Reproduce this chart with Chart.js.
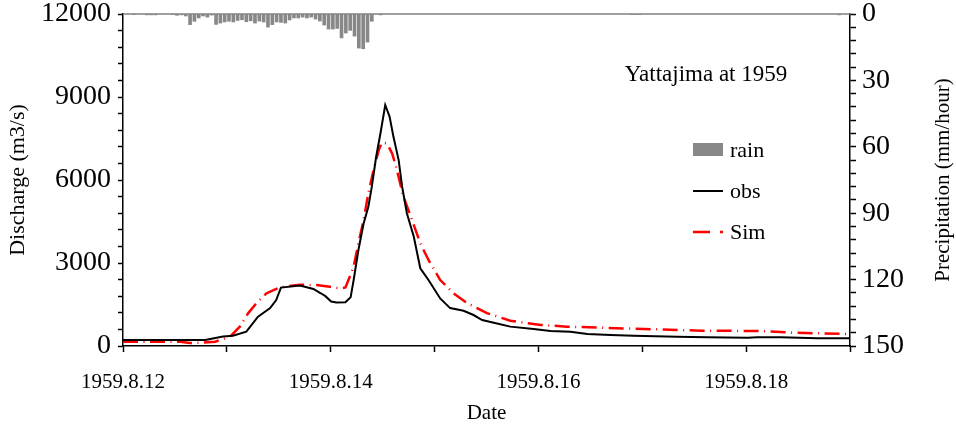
<!DOCTYPE html>
<html>
<head>
<meta charset="utf-8">
<title>Yattajima at 1959</title>
<script src="https://cdn.jsdelivr.net/npm/chart.js@4.4.1/dist/chart.umd.min.js"></script>
<style>
  html, body { margin: 0; padding: 0; background: #fff; }
  #chart { display: block; }
</style>
</head>
<body>
<canvas id="chart" width="956" height="428"></canvas>
<script>
// time is in hours from 1959.8.12 00:00

// hourly rainfall (mm/hour), bar drawn in the middle of its hour
var rainHours = [2, 5, 6, 7, 11, 12, 13, 14,
    15, 16, 17, 18, 19, 20, 21, 22, 23, 24, 25, 26, 27, 28, 29, 30, 31, 32, 33, 34, 35, 36,
    37, 38, 39, 40, 41, 42, 43, 44, 45, 46, 47, 48, 49, 50, 51, 52, 53, 54, 55, 56, 57,
    59, 117, 118, 119, 165];
var rainValues = [0.15, 0.4, 0.4, 0.4, 0.3, 0.6, 0.4, 0.9,
    4.8, 3.3, 1.8, 0.9, 1.4, 0.5, 4.7, 4.1, 3.6, 3.3, 3.6, 2.9, 2.6, 3.5, 3.1, 4.1, 3.2, 3.6, 5.9, 4.8, 3.6, 3.8,
    4.1, 2.7, 1.8, 1.8, 1.4, 1.8, 1.4, 2.3, 3.2, 5.0, 6.8, 6.8, 6.5, 10.8, 8.6, 7.4, 10.0, 15.4, 15.7, 12.7, 3.3,
    0.4, 0.2, 0.3, 0.2, 0.4];

// observed discharge (m3/s)
var obsHours = [0, 19, 23.1, 25.4, 28.5, 31.2, 34, 35.4, 36.5, 40.9, 44, 45.6, 46.7, 48.1, 49.3, 51.4, 52.6,
    53.3, 54.4, 55.6, 56.7, 57.5, 58.5, 59.5, 60.6, 61.6, 62.5, 63.7, 64.5, 65.6, 67.2, 68.7, 70.6,
    73.3, 75.6, 78.7, 81, 83, 85.7, 89.5, 94.9, 98.8, 103.4, 107.3, 112.7, 118, 128.1, 135, 144.3,
    146.6, 152, 160.5, 168];
var obsValues = [220, 220, 340, 370, 520, 1060, 1370, 1660, 2110, 2190, 2060, 1915, 1810, 1610, 1570, 1580, 1760,
    2385, 3470, 4430, 5030, 5760, 6840, 7690, 8710, 8290, 7560, 6720, 5760, 4800, 3950, 2810, 2385,
    1720, 1370, 1275, 1120, 940, 840, 700, 615, 540, 515, 435, 400, 370, 335, 315, 300,
    320, 315, 280, 280];

// simulated discharge (m3/s)
var simHours = [0, 13.2, 15.5, 17.8, 21.3, 24.7, 27, 28.9, 30.8, 33.1, 36.2, 40.9, 44.7, 47.8, 50.2, 51.4,
    52.1, 53.3, 54.4, 55.6, 56.7, 57.9, 59.1, 59.8, 61, 62.2, 63.3, 64.8, 66.8, 68.7, 70.6, 73.3,
    76.4, 79.5, 84.1, 89.5, 96.5, 102.6, 110.3, 120.4, 133.5, 147.3, 155, 166.6, 168];
var simValues = [155, 155, 110, 120, 155, 335, 700, 1180, 1540, 1900, 2120, 2215, 2205, 2140, 2085, 2115,
    2385, 2865, 3710, 4550, 5520, 6360, 7080, 7350, 7325, 6960, 6360, 5400, 4550, 3710, 3110, 2385,
    1905, 1555, 1190, 915, 760, 700, 660, 615, 555, 540, 480, 435, 430];

var dateTickHours = [0, 48, 96, 144];
var dateTickLabels = ['1959.8.12', '1959.8.14', '1959.8.16', '1959.8.18'];

var serif = '"Liberation Serif", "Times New Roman", serif';

function toPoints(xs, ys, shift) {
    var pts = [];
    for (var i = 0; i < xs.length; i++) {
        pts.push({ x: xs[i] + shift, y: ys[i] });
    }
    return pts;
}

// keep the plot box fixed no matter how far the tick labels hang over
function fixVertical(width) {
    return function (s) {
        s.width = width;
        s.paddingTop = 14;
        s.paddingBottom = 0;
    };
}

// gray line along the top, title, legend and right axis title
var decorPlugin = {
    id: 'decor',
    afterDraw: function (chart) {
        var ctx = chart.ctx;
        var area = chart.chartArea;
        var sets = chart.data.datasets;
        ctx.save();

        ctx.strokeStyle = '#808080';
        ctx.lineWidth = 1.5;
        ctx.beginPath();
        ctx.moveTo(area.left, area.top);
        ctx.lineTo(area.right, area.top);
        ctx.stroke();

        ctx.fillStyle = '#000';
        ctx.font = '23px ' + serif;
        ctx.textAlign = 'center';
        ctx.textBaseline = 'middle';
        ctx.fillText('Yattajima at 1959', area.right - 144, area.top + 61);

        var lx = area.right - 157;
        var rows = [area.top + 136, area.top + 177, area.top + 218];

        ctx.fillStyle = sets[0].backgroundColor;
        ctx.fillRect(lx, rows[0] - 7, 30, 13);

        ctx.strokeStyle = sets[1].borderColor;
        ctx.lineWidth = sets[1].borderWidth;
        ctx.beginPath();
        ctx.moveTo(lx, rows[1]);
        ctx.lineTo(lx + 30, rows[1]);
        ctx.stroke();

        ctx.strokeStyle = sets[2].borderColor;
        ctx.lineWidth = sets[2].borderWidth;
        ctx.setLineDash([17, 10, 3, 10]);
        ctx.beginPath();
        ctx.moveTo(lx, rows[2]);
        ctx.lineTo(lx + 30, rows[2]);
        ctx.stroke();
        ctx.setLineDash([]);

        ctx.fillStyle = '#000';
        ctx.font = '22px ' + serif;
        ctx.textAlign = 'left';
        for (var i = 0; i < 3; i++) {
            ctx.fillText(sets[i].label, lx + 37, rows[i] + 1);
        }

        ctx.font = '21px ' + serif;
        ctx.translate(chart.width - 13, (area.top + area.bottom) / 2);
        ctx.rotate(-Math.PI / 2);
        ctx.textAlign = 'center';
        ctx.fillText('Precipitation (mm/hour)', 0, 0);
        ctx.restore();
    }
};

var axisColor = '#000';

var chart = new Chart(document.getElementById('chart'), {
    type: 'line',
    data: {
        datasets: [{
            type: 'bar',
            label: 'rain',
            data: toPoints(rainHours, rainValues, 0.5),
            xAxisID: 'x',
            yAxisID: 'y2',
            backgroundColor: '#888888',
            borderWidth: 0,
            barThickness: 3
        }, {
            label: 'obs',
            data: toPoints(obsHours, obsValues, 0),
            yAxisID: 'y',
            borderColor: '#000',
            borderWidth: 2,
            pointRadius: 0,
            tension: 0,
            fill: false
        }, {
            label: 'Sim',
            data: toPoints(simHours, simValues, 0),
            yAxisID: 'y',
            borderColor: '#ff0000',
            borderWidth: 2.5,
            borderDash: [15, 5.5, 1, 5.5],
            pointRadius: 0,
            tension: 0,
            fill: false
        }]
    },
    options: {
        responsive: false,
        animation: false,
        devicePixelRatio: 1,
        layout: { padding: { top: 14, left: 0, right: 0, bottom: 0 } },
        plugins: { legend: { display: false }, tooltip: { enabled: false } },
        scales: {
            x: {
                type: 'linear',
                min: 0,
                max: 168,
                offset: false,
                afterFit: function (s) { s.height = 82; },
                border: { color: axisColor, width: 1.5 },
                grid: { drawOnChartArea: false, offset: false, tickLength: 6, tickWidth: 1.5, tickColor: axisColor },
                ticks: {
                    stepSize: 24,
                    autoSkip: false,
                    maxRotation: 0,
                    padding: 18,
                    color: '#000',
                    font: { family: serif, size: 21 },
                    callback: function (v) {
                        var i = dateTickHours.indexOf(v);
                        return i >= 0 ? dateTickLabels[i] : '';
                    }
                },
                title: {
                    display: true,
                    text: 'Date',
                    color: '#000',
                    font: { family: serif, size: 21 },
                    padding: { top: 0, bottom: 2 }
                }
            },
            y: {
                position: 'left',
                min: 0,
                max: 12000,
                afterFit: fixVertical(123),
                border: { color: axisColor, width: 1.5 },
                grid: { drawOnChartArea: false, tickLength: 5, tickWidth: 1.5, tickColor: axisColor },
                ticks: {
                    stepSize: 600,
                    autoSkip: false,
                    padding: 7,
                    color: '#000',
                    font: { family: serif, size: 28 },
                    callback: function (v) { return v % 3000 === 0 ? v : ''; }
                },
                title: {
                    display: true,
                    text: 'Discharge (m3/s)',
                    color: '#000',
                    font: { family: serif, size: 22 },
                    padding: { top: 5, bottom: 0 }
                }
            },
            y2: {
                position: 'right',
                min: 0,
                max: 150,
                reverse: true,
                afterFit: fixVertical(106),
                border: { color: axisColor, width: 1.5 },
                grid: { drawOnChartArea: false, tickLength: 6, tickWidth: 1.5, tickColor: axisColor },
                ticks: {
                    stepSize: 6,
                    autoSkip: false,
                    padding: 6,
                    color: '#000',
                    font: { family: serif, size: 28 },
                    callback: function (v) { return v % 30 === 0 ? v : ''; }
                }
            }
        }
    },
    plugins: [decorPlugin]
});
</script>
</body>
</html>
